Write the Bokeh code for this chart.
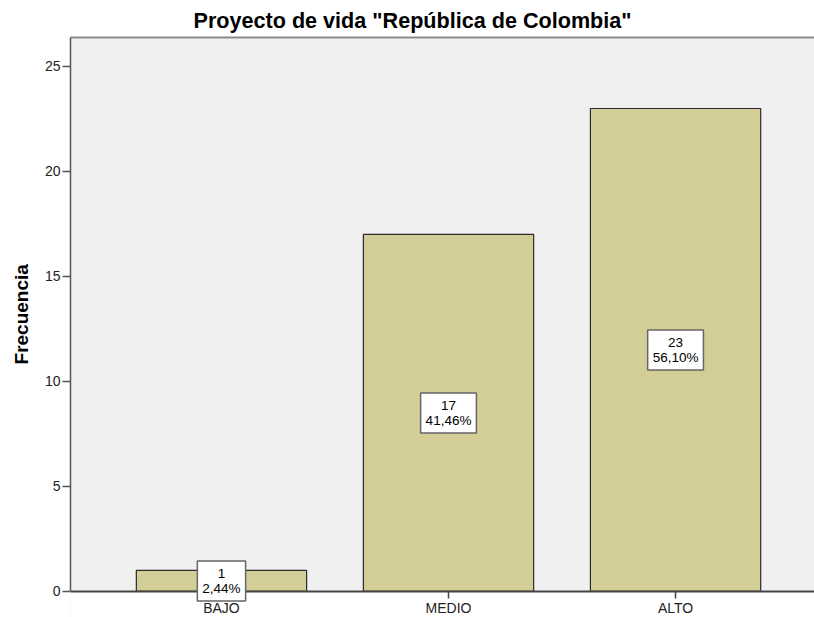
from bokeh.plotting import figure
from bokeh.models import Range1d, FixedTicker, LinearAxis, ColumnDataSource, Label, BoxAnnotation
from bokeh.embed import file_html
from bokeh.resources import INLINE

categories = ["BAJO", "MEDIO", "ALTO"]
counts = [1, 17, 23]
percent_labels = ["2,44%", "41,46%", "56,10%"]
y_ticks = [0, 5, 10, 15, 20, 25]

FONT = "Liberation Sans"
Y_END = 26.38

idx = list(range(len(categories)))
src = ColumnDataSource(dict(x=idx, top=counts))

p = figure(width=814, height=617, output_backend="svg", toolbar_location=None,
           x_range=Range1d(-0.665, 2.612), y_range=Range1d(-1.24, Y_END),
           min_border_left=70, min_border_right=0, min_border_top=0, min_border_bottom=0,
           title='Proyecto de vida "República de Colombia"')

p.background_fill_color = "#f0f0f0"
p.border_fill_color = "white"
p.outline_line_color = None
p.grid.visible = False

p.title.text_font = FONT
p.title.text_font_size = "21.6px"
p.title.text_font_style = "bold"
p.title.align = "left"
p.title.offset = 123
p.title.text_color = "#000000"

# white area below the zero line (outside the plot area in the original)
p.add_layout(BoxAnnotation(top=0, fill_color="white", fill_alpha=1.0,
                           line_color=None, level="underlay"))

p.vbar(x="x", top="top", width=0.75, source=src,
       fill_color="#d3ce97", line_color="#2b2b2b", line_width=1.2)

for i, c, pct in zip(idx, counts, percent_labels):
    p.add_layout(Label(x=i, y=c / 2, text=f"{c}\n{pct}", level="overlay",
                       text_align="center", text_baseline="middle",
                       text_font=FONT, text_font_size="13.5px", text_color="#000000",
                       text_line_height=1.0,
                       background_fill_color="white", border_line_color="#666666",
                       border_line_width=1.5, padding=5))

# y axis
ya = p.yaxis[0]
ya.ticker = FixedTicker(ticks=y_ticks)
ya.bounds = (0, Y_END)
ya.axis_label = "\u00a0" * 5 + "Frecuencia"
ya.axis_label_text_font = FONT
ya.axis_label_text_font_size = "19px"
ya.axis_label_text_font_style = "bold"
ya.axis_label_text_color = "#000000"
ya.axis_label_standoff = 10
ya.major_label_text_font = FONT
ya.major_label_text_font_size = "14px"
ya.major_label_text_color = "#222222"
ya.major_label_standoff = 2
ya.major_tick_in = 0
ya.major_tick_out = 8
ya.minor_tick_in = 0
ya.minor_tick_out = 0
ya.axis_line_color = "#555555"
ya.axis_line_width = 1.5
ya.major_tick_line_color = "#555555"
ya.major_tick_line_width = 1.5

# x axis, drawn at y = 0
xa = p.xaxis[0]
xa.fixed_location = 0
xa.ticker = FixedTicker(ticks=idx)
xa.major_label_overrides = {i: c for i, c in zip(idx, categories)}
xa.major_label_text_font = FONT
xa.major_label_text_font_size = "14px"
xa.major_label_text_color = "#222222"
xa.major_label_standoff = 2
xa.major_tick_in = 0
xa.major_tick_out = 7
xa.minor_tick_in = 0
xa.minor_tick_out = 0
xa.axis_line_color = "#444444"
xa.axis_line_width = 2
xa.major_tick_line_color = "#444444"
xa.major_tick_line_width = 1.5

# top border line
top = LinearAxis(ticker=FixedTicker(ticks=[]), axis_line_color="#8c8c8c", axis_line_width=2,
                 major_tick_in=0, major_tick_out=0, minor_tick_in=0, minor_tick_out=0)
p.add_layout(top, "above")

open("out.html", "w").write(file_html(p, INLINE))
